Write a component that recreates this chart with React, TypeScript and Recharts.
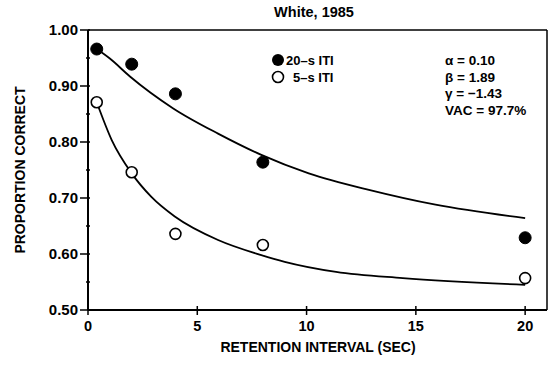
import React from "react";
import {
  ComposedChart,
  Line,
  Scatter,
  XAxis,
  YAxis,
  ReferenceLine,
} from "recharts";

// Observed data (retention interval in sec, proportion correct)
const retention = [0.4, 2, 4, 8, 20];
const iti20 = [0.966, 0.939, 0.886, 0.764, 0.629];
const iti5 = [0.871, 0.746, 0.636, 0.616, 0.557];

// Fitted curves
const fitX20 = [0.4, 1, 1.92, 3.9, 5.95, 7.93, 10.1, 12.9, 15.9, 20];
const fitY20 = [0.966, 0.949, 0.917, 0.86, 0.815, 0.777, 0.744, 0.714, 0.688, 0.664];
const fitX5 = [0.4, 1.08, 2.0, 2.9, 3.97, 5.95, 7.93, 9.0, 11.35, 14.4, 20];
const fitY5 = [0.871, 0.804, 0.744, 0.702, 0.667, 0.625, 0.598, 0.586, 0.568, 0.557, 0.545];

const xTicks = [0, 5, 10, 15, 20];
const yTicks = [0.5, 0.55, 0.6, 0.65, 0.7, 0.75, 0.8, 0.85, 0.9, 0.95, 1.0];
const yMajor = [0.5, 0.6, 0.7, 0.8, 0.9, 1.0];

const legendLabels = ["20\u2013s ITI", "5\u2013s ITI"];
const paramLines = ["\u03b1 = 0.10", "\u03b2 = 1.89", "\u03b3 = \u22121.43", "VAC = 97.7%"];
const title = "White, 1985";
const xLabel = "RETENTION INTERVAL (SEC)";
const yLabel = "PROPORTION CORRECT";

const pts20 = retention.map((x, i) => ({ x, y: iti20[i] }));
const pts5 = retention.map((x, i) => ({ x, y: iti5[i] }));
const curve20 = fitX20.map((x, i) => ({ x, y: fitY20[i] }));
const curve5 = fitX5.map((x, i) => ({ x, y: fitY5[i] }));

const FONT = "'Liberation Sans', Arial, Helvetica, sans-serif";

const XTick = (props: any) => {
  const { x, y, payload } = props;
  return (
    <g>
      <line x1={x} x2={x} y1={y - 4} y2={y + 5} stroke="#000" strokeWidth={1.5} />
      <text x={x} y={y + 21} textAnchor="middle" fontFamily={FONT} fontSize={14.5} fontWeight="bold" fill="#000">
        {payload.value}
      </text>
    </g>
  );
};

const YTick = (props: any) => {
  const { x, y, payload } = props;
  const v = payload.value;
  const major = yMajor.some((m) => Math.abs(m - v) < 1e-6);
  if (!major) {
    return <line x1={x - 2} x2={x + 2} y1={y} y2={y} stroke="#000" strokeWidth={1.5} />;
  }
  return (
    <g>
      <line x1={x - 8} x2={x + 2} y1={y} y2={y} stroke="#000" strokeWidth={1.5} />
      <text x={x - 10} y={y + 5} textAnchor="end" fontFamily={FONT} fontSize={15} fontWeight="bold" fill="#000">
        {Number(v).toFixed(2)}
      </text>
    </g>
  );
};

const FilledDot = (props: any) => (
  <circle cx={props.cx} cy={props.cy} r={6} fill="#000" stroke="#000" strokeWidth={1} />
);
const OpenDot = (props: any) => (
  <circle cx={props.cx} cy={props.cy} r={5.5} fill="#fff" stroke="#000" strokeWidth={1.6} />
);

export default function App() {
  return (
    <div style={{ position: "absolute", left: 0, top: 0, width: 550, height: 366, background: "#fff" }}>
      <ComposedChart
        width={550}
        height={366}
        margin={{ top: 30, right: 3, left: 28, bottom: 26 }}
      >
        <XAxis
          dataKey="x"
          type="number"
          domain={[0, 21]}
          ticks={xTicks}
          axisLine={{ stroke: "#000", strokeWidth: 2 }}
          tickLine={false}
          tickSize={0}
          tickMargin={0}
          tick={<XTick />}
          height={30}
          allowDataOverflow
        />
        <YAxis
          dataKey="y"
          type="number"
          domain={[0.5, 1.0]}
          ticks={yTicks}
          interval={0}
          axisLine={{ stroke: "#000", strokeWidth: 2 }}
          tickLine={false}
          tickSize={0}
          tickMargin={0}
          tick={<YTick />}
          width={60}
          allowDataOverflow
        />
        <ReferenceLine y={1} stroke="#000" strokeWidth={1.5} />
        <ReferenceLine x={21} stroke="#000" strokeWidth={1.5} />
        <Line
          data={curve20}
          dataKey="y"
          type="monotone"
          stroke="#000"
          strokeWidth={1.8}
          dot={false}
          activeDot={false}
          isAnimationActive={false}
        />
        <Line
          data={curve5}
          dataKey="y"
          type="monotone"
          stroke="#000"
          strokeWidth={1.8}
          dot={false}
          activeDot={false}
          isAnimationActive={false}
        />
        <Scatter data={pts20} dataKey="y" shape={<FilledDot />} isAnimationActive={false} />
        <Scatter data={pts5} dataKey="y" shape={<OpenDot />} isAnimationActive={false} />
      </ComposedChart>
      <svg
        width={550}
        height={366}
        style={{ position: "absolute", left: 0, top: 0, pointerEvents: "none" }}
      >
        <g fontFamily={FONT} fontWeight="bold" fill="#000">
          <text x={314} y={17} textAnchor="middle" fontSize={14.5}>{title}</text>
          <circle cx={278} cy={60} r={6} fill="#000" />
          <text x={286} y={65} fontSize={13}>{legendLabels[0]}</text>
          <circle cx={278} cy={77} r={5.5} fill="#fff" stroke="#000" strokeWidth={1.6} />
          <text x={293} y={82} fontSize={13}>{legendLabels[1]}</text>
          {paramLines.map((t, i) => (
            <text key={i} x={445} y={65 + i * 16.7} fontSize={13.5}>{t}</text>
          ))}
          <text x={318} y={352} textAnchor="middle" fontSize={14}>{xLabel}</text>
          <text
            x={20}
            y={170}
            textAnchor="middle"
            fontSize={14}
            transform="rotate(-90 20 170)"
            dy={5}
          >
            {yLabel}
          </text>
        </g>
      </svg>
    </div>
  );
}
